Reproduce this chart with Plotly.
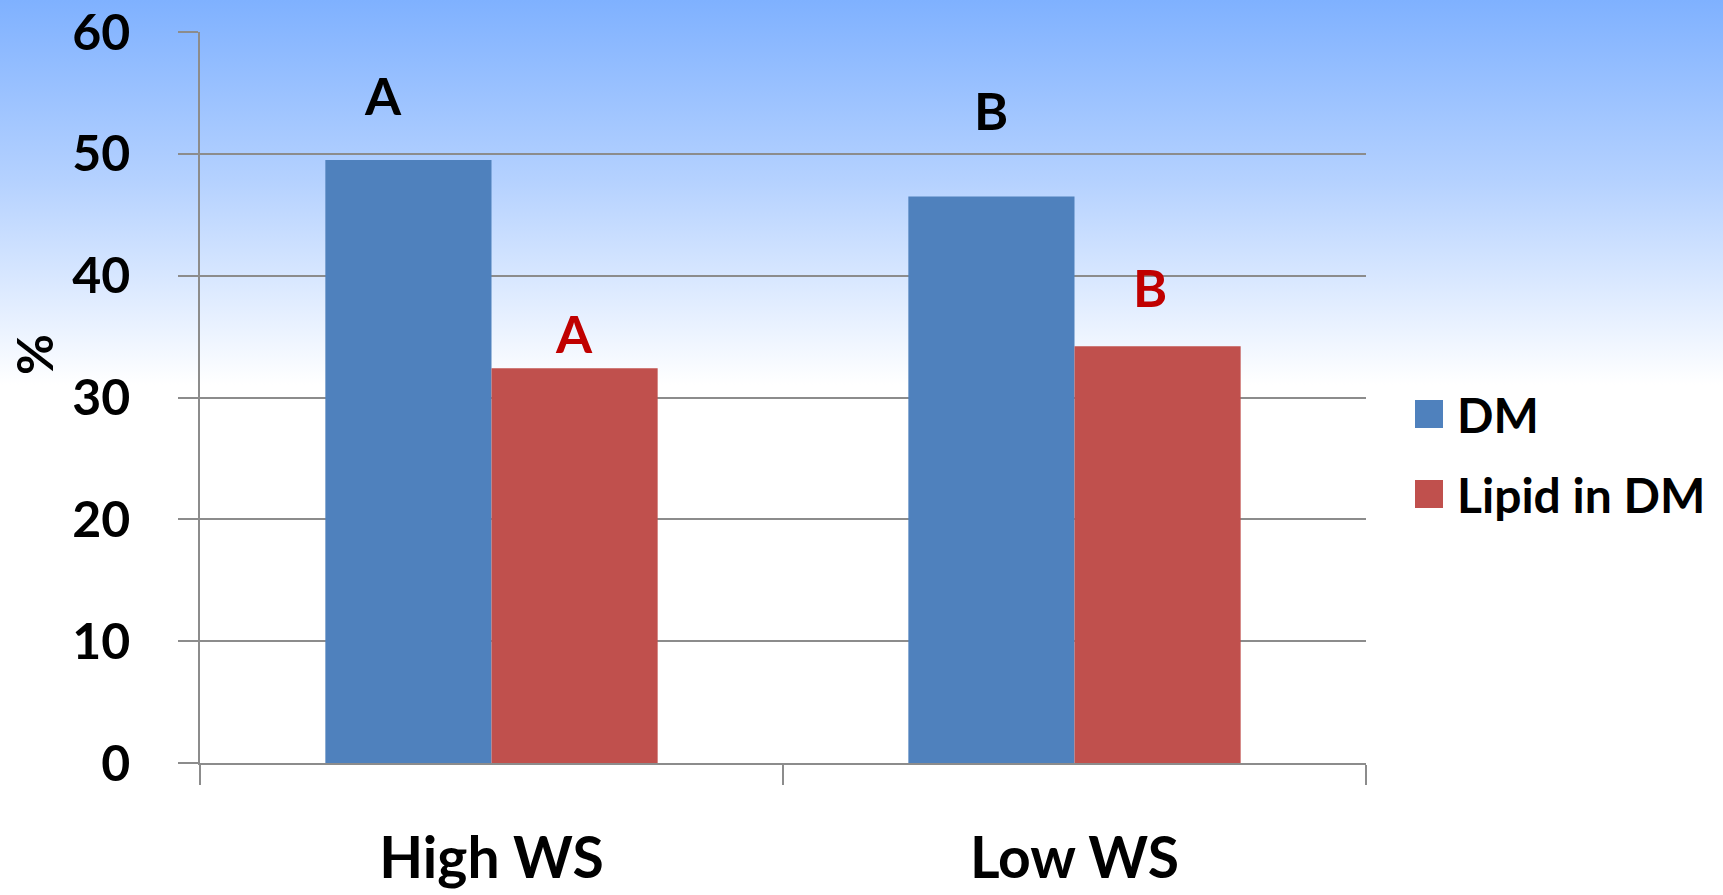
import base64
import plotly.graph_objects as go

# ---- data ----
categories = ["High WS", "Low WS"]
series_names = ["DM", "Lipid in DM"]
dm_values = [49.5, 46.5]
lipid_values = [32.4, 34.2]
dm_letters = ["A", "B"]
lipid_letters = ["A", "B"]
y_ticks = [0, 10, 20, 30, 40, 50, 60]

# ---- style ----
W, H = 1723, 895
ML, MR, MT, MB = 200, 357, 32, 132
PW, PH = W - ML - MR, H - MT - MB
FONT = "Lato, 'Open Sans', sans-serif"
BLUE, RED = "#4f81bd", "#c0504d"
GRID = "#8c8c8c"

def px_x(xp):
    return (xp - ML) / PW

def px_y(yp):
    return (H - MB - yp) / PH

fig = go.Figure()
fig.add_trace(go.Bar(x=categories, y=dm_values, name=series_names[0],
                     marker=dict(color=BLUE, line=dict(width=0)), showlegend=False))
fig.add_trace(go.Bar(x=categories, y=lipid_values, name=series_names[1],
                     marker=dict(color=RED, line=dict(width=0)), showlegend=False))

# letters above bars (placement offsets / heights in data units)
dm_letter_pos = [(-0.186, 54.8), (-0.144, 53.6)]
lipid_letter_pos = [(0.142, 35.3), (0.129, 39.1)]
annotations = []
for i, (lt, (dx, yy)) in enumerate(zip(dm_letters, dm_letter_pos)):
    annotations.append(dict(x=i + dx, y=yy, xref="x", yref="y", text=f"<b>{lt}</b>",
                            showarrow=False, font=dict(family=FONT, size=52, color="#000000")))
for i, (lt, (dx, yy)) in enumerate(zip(lipid_letters, lipid_letter_pos)):
    annotations.append(dict(x=i + dx, y=yy, xref="x", yref="y", text=f"<b>{lt}</b>",
                            showarrow=False, font=dict(family=FONT, size=52, color="#c00000")))

# y axis title
annotations.append(dict(x=px_x(34), y=px_y(355), xref="paper", yref="paper", text="<b>%</b>",
                        textangle=-90, showarrow=False, xanchor="center", yanchor="middle",
                        font=dict(family=FONT, size=50, color="#000000")))

# manual legend
shapes = []
leg_rows = [(series_names[0], BLUE, 414), (series_names[1], RED, 494)]
for name, col, yc in leg_rows:
    shapes.append(dict(type="rect", xref="paper", yref="paper",
                       x0=px_x(1415), x1=px_x(1443), y0=px_y(yc + 14), y1=px_y(yc - 14),
                       fillcolor=col, line=dict(width=0)))
    annotations.append(dict(x=px_x(1455), y=px_y(yc), xref="paper", yref="paper",
                            text=f"<b>{name}</b>", showarrow=False, xanchor="left",
                            yanchor="middle",
                            font=dict(family=FONT, size=48, color="#000000")))

# gradient background
svg = ("<svg xmlns='http://www.w3.org/2000/svg' width='100' height='100' preserveAspectRatio='none'>"
       "<defs><linearGradient id='g' x1='0' y1='0' x2='0' y2='1'>"
       "<stop offset='0' stop-color='#7fb1ff'/>"
       "<stop offset='0.2' stop-color='#b4d1ff'/>"
       "<stop offset='0.43' stop-color='#ffffff'/>"
       "<stop offset='1' stop-color='#ffffff'/>"
       "</linearGradient></defs><rect width='100' height='100' fill='url(#g)'/></svg>")
uri = "data:image/svg+xml;base64," + base64.b64encode(svg.encode()).decode()

fig.update_layout(
    width=W, height=H,
    margin=dict(l=ML, r=MR, t=MT, b=MB, autoexpand=False),
    paper_bgcolor="white", plot_bgcolor="rgba(0,0,0,0)",
    barmode="group", bargap=0.43, bargroupgap=0,
    font=dict(family=FONT, color="#000000"),
    annotations=annotations, shapes=shapes,
    images=[dict(source=uri, xref="paper", yref="paper", x=-ML / PW, y=1 + MT / PH,
                 sizex=W / PW, sizey=H / PH, xanchor="left", yanchor="top",
                 sizing="stretch", layer="below")],
)
fig.update_xaxes(
    type="category", automargin=False, showgrid=False, showline=True, linecolor=GRID,
    linewidth=2, ticks="outside", tickson="boundaries", ticklen=20, tickwidth=1.5,
    tickcolor=GRID, ticklabelstandoff=45, ticklabeloverflow="allow",
    tickfont=dict(family=FONT, size=57, color="#000000", weight="bold"),
)
fig.update_yaxes(
    automargin=False, range=[0, 60], tickvals=y_ticks, showgrid=True, gridcolor=GRID,
    gridwidth=2, showline=True, linecolor=GRID, linewidth=1.5, zeroline=False,
    ticks="outside", ticklen=20, tickwidth=2, tickcolor=GRID, ticklabelstandoff=38,
    ticklabeloverflow="allow",
    tickfont=dict(family=FONT, size=50, color="#000000", weight="bold"),
)

fig.write_html("out.html", config={"displayModeBar": False},
               post_script="document.body.style.margin='0';document.body.style.overflow='hidden';")
